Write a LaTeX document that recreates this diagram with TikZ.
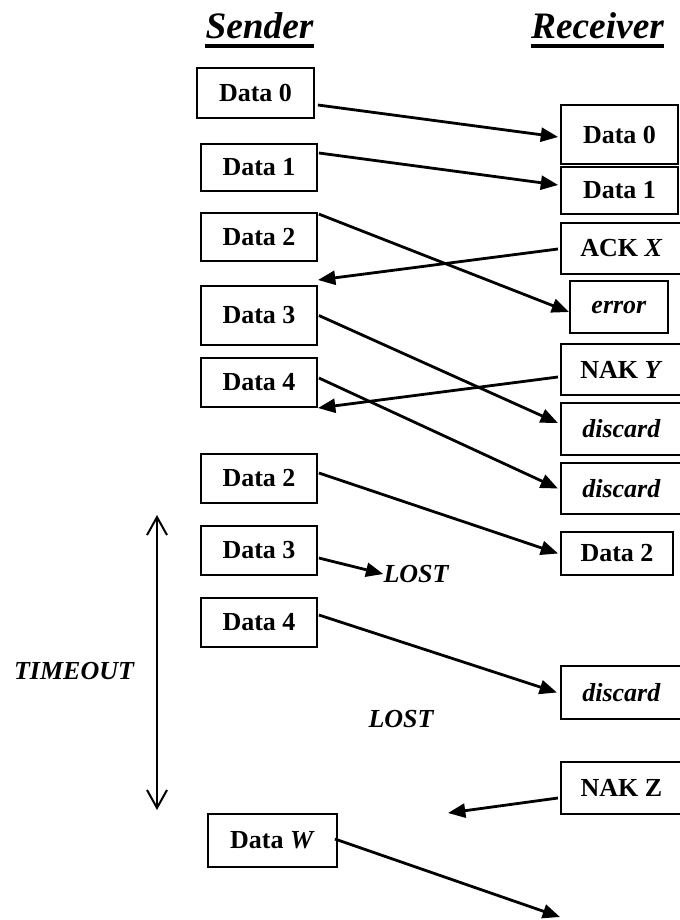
\documentclass[tikz,border=0pt]{standalone}
\usepackage{fontspec}
\setmainfont{Liberation Serif}
\usetikzlibrary{arrows.meta,calc}
\begin{document}
\begin{tikzpicture}[x=0.75pt,y=-0.75pt,
  box/.style={draw, line width=1.35pt, inner sep=0pt, font=\fontsize{19.5}{22}\selectfont\bfseries},
  sbox/.style={box, minimum width=87pt},
  rbox/.style={box, minimum width=87.75pt},
  wbox/.style={box, minimum width=91pt},
  arr/.style={line width=2.1pt, -{Triangle[length=13pt,width=10.5pt]}},
  lbl/.style={font=\fontsize{19.5}{22}\selectfont\bfseries\itshape, inner sep=0pt},
  ttl/.style={font=\fontsize{28}{32}\selectfont\bfseries\itshape, inner sep=0pt, anchor=base},
  barb/.style={line width=1.5pt, {Straight Barb[length=13.5pt,width=15pt]}-{Straight Barb[length=13.5pt,width=15pt]}}]
\useasboundingbox (0,0) rectangle (679,920);

% titles
\node[ttl] (sender) at (259.5,39) {Sender};
\node[ttl] (receiver) at (597.5,39) {Receiver};
\draw[line width=2.4pt] ($(sender.base west)+(0,7)$) -- ($(sender.base east)+(0,7)$);
\draw[line width=2.4pt] ($(receiver.base west)+(0,7)$) -- ($(receiver.base east)+(0,7)$);

% sender boxes
\node[box, minimum width=87.75pt, minimum height=37.5pt] (s0) at (255.5,93) {Data 0};
\node[sbox, minimum height=35.25pt] (s1) at (259,167.5) {Data 1};
\node[sbox, minimum height=36pt] (s2) at (259,237) {Data 2};
\node[sbox, minimum height=44.25pt] (s3) at (259,315.5) {Data 3};
\node[sbox, minimum height=36.75pt] (s4) at (259,382.5) {Data 4};
\node[sbox, minimum height=36.75pt] (s2b) at (259,478.5) {Data 2};
\node[sbox, minimum height=36.75pt] (s3b) at (259,550.5) {Data 3};
\node[sbox, minimum height=36.75pt] (s4b) at (259,622.5) {Data 4};
\node[box, minimum width=96.75pt, minimum height=39.75pt] (sw) at (272.5,840.5) {Data \textit{W}};

% receiver boxes
\node[rbox, minimum height=44.25pt] (r0) at (619.5,134.5) {Data 0};
\node[rbox, minimum height=35.25pt] (r1) at (619.5,190.5) {Data 1};
\node[wbox, minimum height=38.25pt] (ack) at (621.5,248.5) {ACK \textit{X}};
\node[box, minimum width=73.5pt, minimum height=39pt] (err) at (619,307) {\textit{error}};
\node[wbox, minimum height=38.25pt] (naky) at (621.5,369.5) {NAK \textit{Y}};
\node[wbox, minimum height=39pt] (d1) at (621.5,429) {\textit{discard}};
\node[wbox, minimum height=38.25pt] (d2) at (621.5,488.5) {\textit{discard}};
\node[box, minimum width=84pt, minimum height=32.25pt] (rd2) at (617,553.5) {Data 2};
\node[wbox, minimum height=39.75pt] (d3) at (621.5,692.5) {\textit{discard}};
\node[wbox, minimum height=39pt] (nakz) at (621.5,788) {NAK Z};

% labels
\node[lbl] (lost1) at (416,574) {LOST};
\node[lbl] (lost2) at (401,719) {LOST};
\node[lbl] (timeout) at (74,671) {TIMEOUT};

% free ends
\coordinate (ackend) at (318,280);
\coordinate (nakyend) at (318,408);
\coordinate (nakzend) at (448,813);
\coordinate (wend) at (560,917);
\coordinate (ttop) at (157,515);
\coordinate (tbot) at (157,810);

% connectors
\draw[arr] ($(s0.east)+(3,12)$) -- ($(r0.west)+(-2,2.5)$);
\draw[arr] ($(s1.east)+(1,-14.5)$) -- ($(r1.west)+(-2,-5.5)$);
\draw[arr] ($(s2.north east)+(1,2)$) -- ($(err.west)+(0,5)$);
\draw[arr] ($(ack.west)+(-2,0.5)$) -- (ackend);
\draw[arr] ($(s3.east)+(1,0)$) -- ($(d1.west)+(-2,-6)$);
\draw[arr] ($(naky.west)+(-2,7.5)$) -- (nakyend);
\draw[arr] ($(s4.east)+(1,-4.5)$) -- ($(d2.west)+(-2,0)$);
\draw[arr] ($(s2b.east)+(1,-5.5)$) -- ($(rd2.west)+(-2,0)$);
\draw[arr] ($(s3b.east)+(1,7.5)$) -- (lost1.west);
\draw[arr] ($(s4b.east)+(1,-7.5)$) -- ($(d3.west)+(-3,0)$);
\draw[arr] ($(nakz.west)+(-2,10)$) -- (nakzend);
\draw[arr] ($(sw.east)+(-3,-1.5)$) -- (wend);
\draw[barb] (ttop) -- (tbot);
\end{tikzpicture}
\end{document}
